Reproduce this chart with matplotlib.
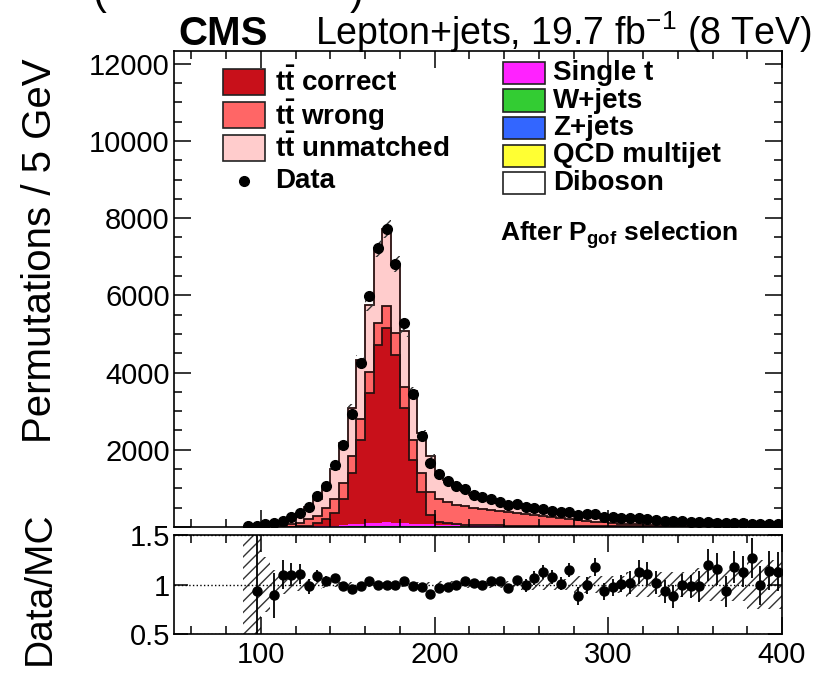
import numpy as np
import matplotlib
matplotlib.use('Agg')
import matplotlib.pyplot as plt
from matplotlib.patches import Rectangle
from matplotlib.lines import Line2D
from matplotlib.ticker import MultipleLocator, FuncFormatter

plt.rcParams['font.family'] = ['Liberation Sans', 'DejaVu Sans']
plt.rcParams['mathtext.fontset'] = 'custom'
plt.rcParams['mathtext.rm'] = 'Liberation Sans'
plt.rcParams['mathtext.bf'] = 'Liberation Sans:bold'
plt.rcParams['mathtext.it'] = 'Liberation Sans:italic'
plt.rcParams['hatch.linewidth'] = 1.0

# m_W fit, 5 GeV bins from 90 to 400 GeV
bin_lo, bin_hi, bin_w = 90, 400, 5

data_counts = [15, 30, 70, 100, 165, 250, 365, 510, 795, 1065,
               1600, 2120, 2940, 4240, 5990, 7220, 7710, 6810, 5290, 3440,
               2370, 1650, 1380, 1190, 1065, 975, 840, 765, 715, 655,
               560, 590, 510, 485, 460, 420, 400, 400, 300, 330,
               330, 260, 250, 245, 245, 235, 200, 185, 160, 155,
               150, 140, 135, 125, 112, 110, 100, 95, 88, 80,
               75, 70]

tt_correct = [0, 0, 0, 0, 1, 2, 8, 20, 75, 170,
              320, 680, 1325, 2170, 3360, 4600, 5045, 4345, 2975, 1650,
              840, 245, 80, 40, 22, 14, 10, 8, 6, 5,
              4, 4, 3, 3, 2, 2, 2, 2, 2, 1,
              1, 1, 1, 1, 1, 1, 1, 1, 0, 0,
              0, 0, 0, 0, 0, 0, 0, 0, 0, 0,
              0, 0]

tt_wrong = [0, 3, 8, 15, 40, 70, 94, 166, 191, 287,
            370, 421, 449, 545, 563, 581, 563, 578, 560, 517,
            490, 600, 590, 544, 506, 477, 451, 425, 399, 373,
            347, 323, 300, 277, 249, 225, 207, 183, 156, 138,
            118, 104, 80, 70, 62, 52, 43, 33, 27, 22,
            18, 15, 13, 11, 10, 9, 8, 7, 6, 5,
            5, 4]

tt_unmatched = [3, 28, 45, 94, 104, 147, 217, 321, 444, 540,
                770, 1015, 1256, 1529, 1736, 1927, 1985, 1776, 1452, 1256,
                1036, 920, 706, 587, 496, 398, 319, 290, 243, 215,
                198, 202, 180, 143, 127, 134, 161, 138, 161, 173,
                140, 155, 158, 153, 160, 138, 120, 131, 130, 139,
                120, 114, 111, 81, 75, 97, 66, 66, 52, 66,
                51, 48]

single_t = [0, 1, 1, 2, 3, 4, 6, 8, 12, 18,
            25, 35, 50, 65, 80, 90, 95, 90, 80, 70,
            60, 52, 46, 42, 38, 35, 32, 30, 28, 26,
            24, 23, 22, 21, 20, 19, 18, 17, 16, 15,
            15, 14, 13, 13, 12, 12, 11, 11, 10, 10,
            9, 9, 9, 8, 8, 8, 7, 7, 7, 6,
            6, 6]

wjets = [0, 0, 1, 1, 1, 2, 2, 3, 4, 5,
         6, 7, 8, 10, 12, 12, 12, 12, 11, 10,
         10, 9, 9, 8, 8, 8, 7, 7, 7, 6,
         6, 6, 6, 5, 5, 5, 5, 5, 4, 4,
         4, 4, 4, 4, 3, 3, 3, 3, 3, 3,
         3, 3, 3, 2, 2, 2, 2, 2, 2, 2,
         2, 2]

zjets = [0, 0, 0, 0, 0, 1, 1, 1, 1, 2,
         2, 2, 3, 3, 4, 4, 4, 4, 4, 3,
         3, 3, 3, 3, 3, 3, 2, 2, 2, 2,
         2, 2, 2, 2, 2, 2, 2, 2, 1, 1,
         1, 1, 1, 1, 1, 1, 1, 1, 1, 1,
         1, 1, 1, 1, 1, 1, 1, 1, 1, 1,
         1, 1]

qcd = [0, 0, 0, 0, 1, 1, 1, 1, 2, 2,
       2, 3, 3, 4, 4, 5, 5, 4, 4, 3,
       3, 3, 2, 2, 2, 2, 2, 2, 2, 2,
       1, 1, 1, 1, 1, 1, 1, 1, 1, 1,
       1, 1, 1, 1, 1, 1, 1, 1, 1, 1,
       1, 1, 1, 1, 1, 1, 1, 1, 1, 1,
       1, 1]

diboson = [0, 0, 0, 0, 0, 0, 0, 0, 0, 0,
           0, 0, 1, 1, 1, 1, 1, 1, 1, 1,
           1, 1, 1, 1, 1, 1, 1, 1, 1, 1,
           1, 1, 1, 1, 1, 1, 0, 0, 0, 0,
           0, 0, 0, 0, 0, 0, 0, 0, 0, 0,
           0, 0, 0, 0, 0, 0, 0, 0, 0, 0,
           0, 0]

nan = np.nan
ratio = [nan, 0.93, nan, 0.89, 1.10, 1.10, 1.11, 0.98, 1.09, 1.04,
         1.07, 0.98, 0.95, 0.98, 1.04, 1.00, 1.00, 1.00, 1.04, 0.98,
         0.97, 0.90, 0.96, 0.97, 0.99, 1.04, 1.02, 1.00, 1.04, 1.04,
         0.96, 1.05, 0.99, 1.07, 1.13, 1.08, 1.01, 1.15, 0.88, 0.99,
         1.18, 0.93, 0.97, 1.01, 1.02, 1.13, 1.11, 1.02, 0.93, 0.88,
         0.99, 0.98, 0.98, 1.20, 1.16, 0.93, 1.18, 1.13, 1.27, 0.99,
         1.14, 1.13]

ratio_err = [nan, 0.7, nan, 0.23, 0.15, 0.12, 0.10, 0.08, 0.06, 0.05,
             0.04, 0.03, 0.03, 0.03, 0.03, 0.03, 0.03, 0.03, 0.03, 0.03,
             0.03, 0.04, 0.04, 0.04, 0.04, 0.04, 0.04, 0.04, 0.04, 0.04,
             0.04, 0.04, 0.07, 0.07, 0.07, 0.07, 0.07, 0.07, 0.09, 0.09,
             0.09, 0.09, 0.09, 0.09, 0.12, 0.12, 0.12, 0.12, 0.12, 0.12,
             0.12, 0.12, 0.16, 0.16, 0.16, 0.16, 0.16, 0.16, 0.20, 0.20,
             0.20, 0.20]

# relative MC uncertainty (hatched band)
mc_unc = [1.0, 1.0, 0.28, 0.15, 0.10, 0.08, 0.07, 0.06, 0.05, 0.04,
          0.03, 0.03, 0.03, 0.03, 0.03, 0.03, 0.03, 0.03, 0.03, 0.03,
          0.03, 0.03, 0.035, 0.035, 0.035, 0.035, 0.035, 0.035, 0.035, 0.035,
          0.035, 0.035, 0.06, 0.06, 0.06, 0.06, 0.06, 0.06, 0.09, 0.09,
          0.09, 0.09, 0.09, 0.09, 0.13, 0.13, 0.13, 0.13, 0.13, 0.13,
          0.13, 0.13, 0.17, 0.17, 0.17, 0.17, 0.17, 0.17, 0.25, 0.25,
          0.25, 0.25]

W, H = 818, 674
def fx(x):
    return x / W
def fy(y):
    return 1 - y / H

edges = np.arange(bin_lo, bin_hi + 1, bin_w)
centers = edges[:-1] + bin_w / 2

fig = plt.figure(figsize=(8.18, 6.74), dpi=100)
ax = fig.add_axes([fx(174), fy(527), fx(782) - fx(174), fy(51) - fy(527)])
ax2 = fig.add_axes([fx(174), fy(634), fx(782) - fx(174), fy(535) - fy(634)])

# stacked MC
layers = [(diboson, 'white', False), (qcd, '#FFFF33', False), (zjets, '#3366FF', False),
          (wjets, '#33CC33', False), (single_t, '#FF22FF', False),
          (tt_correct, '#C8101A', True), (tt_wrong, '#FF6666', True),
          (tt_unmatched, '#FFCCCC', True)]
base = np.zeros(len(centers))
for vals, col, outline in layers:
    top = base + np.array(vals, dtype=float)
    ax.stairs(top, edges, baseline=base, fill=True, facecolor=col, edgecolor='none', zorder=1)
    if outline:
        ax.stairs(top, edges, baseline=None, color='#2a1010', lw=1.3, zorder=1.2)
    base = top
mc_total = base

unc = np.array(mc_unc)
ax.fill_between(edges, np.append(mc_total * (1 - unc), 0), np.append(mc_total * (1 + unc), 0),
                step='post', hatch='///', facecolor='none', edgecolor='#333333', lw=0, zorder=1.5)
ax.plot(centers, data_counts, 'o', color='black', ms=7, zorder=3)

ax.set_xlim(50, 400)
ax.set_ylim(0, 12330)
ax.xaxis.set_major_locator(MultipleLocator(100))
ax.xaxis.set_minor_locator(MultipleLocator(20))
ax.yaxis.set_major_locator(MultipleLocator(2000))
ax.yaxis.set_minor_locator(MultipleLocator(500))
ax.yaxis.set_major_formatter(FuncFormatter(lambda v, p: '' if v == 0 else '%d' % v))
ax.tick_params(which='both', direction='in', top=True, right=True, labelbottom=False,
               labelsize=21, width=1.1, pad=3)
ax.tick_params(which='major', length=12)
ax.tick_params(which='minor', length=6)

# ratio panel
ax2.fill_between(edges, np.append(1 - unc, 1 - unc[-1]), np.append(1 + unc, 1 + unc[-1]),
                 step='post', hatch='///', facecolor='none', edgecolor='#333333', lw=0, zorder=1)
for yv in (0.5, 1.0, 1.5):
    ax2.axhline(yv, color='black', ls=':', lw=1.0, zorder=1.2)
ax2.errorbar(centers, ratio, yerr=ratio_err, fmt='o', color='black', ms=6.5,
             elinewidth=1.3, capsize=0, zorder=3)
ax2.set_xlim(50, 400)
ax2.set_ylim(0.5, 1.5)
ax2.xaxis.set_major_locator(MultipleLocator(100))
ax2.xaxis.set_minor_locator(MultipleLocator(20))
ax2.set_yticks([0.5, 1.0, 1.5])
ax2.set_yticklabels(['0.5', '1', '1.5'])
ax2.tick_params(which='both', direction='in', top=True, right=True, labelsize=21, width=1.1, pad=3)
ax2.tick_params(axis='x', which='major', length=12, pad=5)
ax2.tick_params(axis='x', which='minor', length=6)
ax2.tick_params(axis='y', which='major', length=10)

for a in (ax, ax2):
    for s in a.spines.values():
        s.set_linewidth(1.2)

# axis titles
fig.text(fx(40), fy(58), 'Permutations / 5 GeV', rotation=90, fontsize=29, ha='center', va='top')
fig.text(fx(40), fy(588), 'Data/MC', rotation=90, fontsize=28, ha='center', va='center')

# header
fig.text(fx(178), fy(45), 'CMS', fontsize=29, fontweight='bold', ha='left', va='baseline')
fig.text(fx(812), fy(45), r'Lepton+jets, 19.7 fb$^{-1}$ (8 TeV)', fontsize=27, ha='right', va='baseline')
fig.text(fx(92), fy(4), '(', fontsize=30, ha='left', va='baseline')
fig.text(fx(350), fy(4), ')', fontsize=30, ha='left', va='baseline')

# legend, left column
left_entries = [(r'$\mathbf{t\bar{t}}$ correct', '#C8101A', 82),
                (r'$\mathbf{t\bar{t}}$ wrong', '#FF6666', 115),
                (r'$\mathbf{t\bar{t}}$ unmatched', '#FFCCCC', 148)]
for lab, col, yc in left_entries:
    fig.patches.append(Rectangle((fx(223), fy(yc + 13)), fx(42), 26 / H, facecolor=col,
                                 edgecolor='#222222', lw=1.2, transform=fig.transFigure, figure=fig))
    fig.text(fx(275), fy(yc), lab, fontsize=20, fontweight='bold', ha='left', va='center')
fig.lines.append(Line2D([fx(244)], [fy(181)], marker='o', ms=7, color='black',
                        transform=fig.transFigure, figure=fig))
fig.text(fx(275), fy(181), 'Data', fontsize=20, fontweight='bold', ha='left', va='center')

# legend, right column
right_entries = [('Single t', '#FF22FF', 73), ('W+jets', '#33CC33', 100.5),
                 ('Z+jets', '#3366FF', 128), ('QCD multijet', '#FFFF33', 155.5),
                 ('Diboson', 'white', 183)]
for lab, col, yc in right_entries:
    fig.patches.append(Rectangle((fx(503), fy(yc + 11)), fx(42), 22 / H, facecolor=col,
                                 edgecolor='#222222', lw=1.2, transform=fig.transFigure, figure=fig))
    fig.text(fx(553), fy(yc), lab, fontsize=20, fontweight='bold', ha='left', va='center')

fig.text(fx(500), fy(241), r'After P$_{\mathbf{gof}}$ selection', fontsize=19,
         fontweight='bold', ha='left', va='baseline')

fig.savefig('out.png', dpi=100)
